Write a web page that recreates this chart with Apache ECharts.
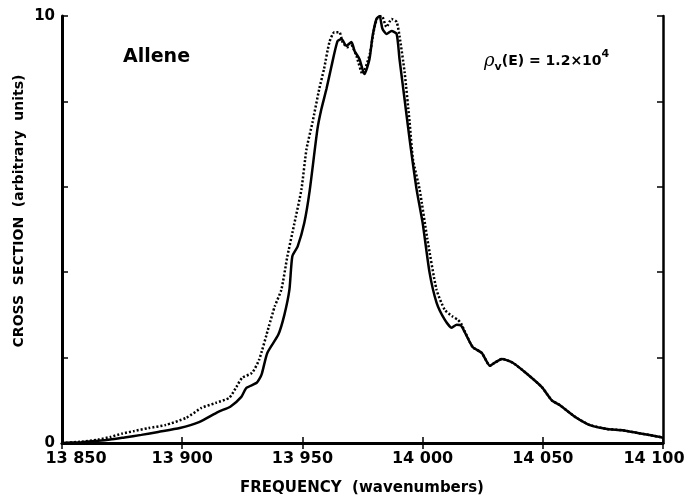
<!DOCTYPE html>
<html>
<head>
<meta charset="utf-8">
<script src="https://cdn.jsdelivr.net/npm/echarts@6/dist/echarts.min.js"></script>
<style>
html,body{margin:0;padding:0;background:#fff;}
#chart{width:687px;height:500px;}
</style>
</head>
<body>
<div id="chart"></div>
<script>
// Solid curve
var solidFreq = [13850,13858,13865,13870,13876,13883,13890,13899,13907,13915,13920,13924.6,13926.7,13931,13933,13935.4,13940,13942.5,13944.6,13945.8,13948,13950.8,13953,13956.25,13957.9,13960,13962,13964.6,13966.25,13968.3,13970.4,13971.7,13973.75,13975.8,13977.9,13979.2,13980.8,13982.1,13983.3,13985,13987.1,13989.2,13990.4,13992.5,13994.6,13997.5,14000,14002.9,14005.8,14009.2,14012.1,14014.2,14016,14017.5,14020.8,14024.6,14028,14030,14033,14037.5,14043,14049.6,14053.75,14057,14064,14069.6,14076.7,14083,14090,14098.75,14100];
var solidVal = [0,0.02,0.05,0.08,0.13,0.19,0.26,0.35,0.49,0.73,0.85,1.08,1.29,1.41,1.6,2.11,2.54,3.0,3.59,4.37,4.6,5.16,5.9,7.35,7.82,8.29,8.8,9.41,9.46,9.3,9.39,9.18,8.99,8.64,8.99,9.53,9.93,10.0,9.7,9.58,9.65,9.58,8.99,8.05,7.11,5.94,5.16,3.99,3.29,2.89,2.7,2.77,2.75,2.6,2.25,2.11,1.81,1.88,1.97,1.88,1.64,1.31,1.0,0.89,0.59,0.42,0.33,0.3,0.23,0.14,0.12];
// Dotted curve
var dottedFreq = [13850,13858,13865,13870,13875,13880,13886,13893,13901.7,13908,13914,13919.6,13922.5,13925,13929,13932,13936,13938.5,13941.25,13943.75,13946.5,13949.6,13951.7,13954.2,13957,13959,13961.25,13963.3,13965.4,13966.7,13968.75,13970.4,13972.5,13975,13978,13979.5,13981,13983,13985,13987.1,13989.2,13990.4,13992.5,13994.6,13996,13998.75,14002,14005.8,14009.2,14012.5,14014.6,14016,14017.5,14020.8,14024.6,14028,14030,14033,14037.5,14043,14049.6,14053.75,14057,14064,14069.6,14076.7,14083,14090,14098.75,14100];
var dottedVal = [0,0.03,0.08,0.14,0.22,0.28,0.35,0.42,0.59,0.82,0.94,1.06,1.31,1.53,1.64,1.95,2.72,3.2,3.59,4.37,5.1,5.94,6.88,7.51,8.29,8.76,9.39,9.62,9.62,9.39,9.27,9.3,9.06,8.64,9.1,9.6,9.93,10.0,9.74,9.93,9.86,9.53,8.69,7.51,6.64,5.94,4.77,3.59,3.12,2.96,2.89,2.8,2.62,2.25,2.11,1.81,1.88,1.97,1.88,1.64,1.31,1.0,0.89,0.59,0.42,0.33,0.3,0.23,0.14,0.12];
// Tick labels
var xTickValues = [13850,13900,13950,14000,14050,14100];
var xTickLabels = ['13 850','13 900','13 950','14 000','14 050','14 100'];
var yTickValues = [0,2,4,6,8,10];
var yTickLabels = ['0','','','','','10'];

function zip(a,b){var r=[];for(var i=0;i<a.length;i++)r.push([a[i],b[i]]);return r;}

var FONT = 'DejaVu Sans';
var axisLineStyle = {color:'#000', width:3};
var tickStyle = {inside:true, length:6, lineStyle:{color:'#000', width:1.5}};

var chart = echarts.init(document.getElementById('chart'), null, {renderer:'canvas'});
var option = {
  animation:false,
  backgroundColor:'#fff',
  grid:{left:62, right:24, top:16, bottom:57, containLabel:false, outerBoundsMode:'none'},
  xAxis:[
    {type:'value', min:13850, max:14100, interval:50, position:'bottom',
     axisLine:{lineStyle:axisLineStyle}, axisTick:tickStyle, splitLine:{show:false},
     axisLabel:{color:'#000', fontFamily:FONT, fontWeight:'bold', fontSize:16, margin:8,
       rich:{
         first:{fontFamily:FONT, fontWeight:'bold', fontSize:16, color:'#000', padding:[0,0,0,28]},
         last:{fontFamily:FONT, fontWeight:'bold', fontSize:16, color:'#000', padding:[0,18,0,0]}
       },
       formatter:function(v){var i=xTickValues.indexOf(v);if(i<0)return '';
         if(i===0)return '{first|'+xTickLabels[i]+'}';
         if(i===xTickValues.length-1)return '{last|'+xTickLabels[i]+'}';
         return xTickLabels[i];}}},
    {type:'value', min:13850, max:14100, interval:50, position:'top',
     axisLine:{lineStyle:{color:'#000', width:2.5}}, axisTick:tickStyle, splitLine:{show:false},
     axisLabel:{show:false}}
  ],
  yAxis:[
    {type:'value', min:0, max:10, interval:2, position:'left',
     axisLine:{lineStyle:axisLineStyle}, axisTick:tickStyle, splitLine:{show:false},
     axisLabel:{color:'#000', fontFamily:FONT, fontWeight:'bold', fontSize:15, margin:7,
       formatter:function(v){var i=yTickValues.indexOf(v);return i>=0?yTickLabels[i]:'';}}},
    {type:'value', min:0, max:10, interval:2, position:'right',
     axisLine:{lineStyle:{color:'#000', width:2.5}}, axisTick:tickStyle, splitLine:{show:false},
     axisLabel:{show:false}}
  ],
  series:[
    {type:'line', name:'solid', xAxisIndex:0, yAxisIndex:0, data:zip(solidFreq, solidVal),
     showSymbol:false, smooth:0.2, lineStyle:{color:'#000', width:2.5}},
    {type:'line', name:'dotted', xAxisIndex:0, yAxisIndex:0, data:zip(dottedFreq, dottedVal),
     showSymbol:false, smooth:0.2, lineStyle:{color:'#000', width:2.5, type:[2,2]}}
  ],
  graphic:[
    {type:'text', left:123, top:48, style:{text:'Allene', fill:'#000', font:'bold 19px "DejaVu Sans"'}},
    {type:'text', left:484, top:49, style:{
      text:'{i|ρ}{sub|v}{n|(E) = 1.2×10}{sup|4}',
      rich:{
        i:{font:'italic 18px "DejaVu Serif"', fill:'#000', verticalAlign:'middle', lineHeight:24},
        sub:{font:'bold 11px "DejaVu Sans"', fill:'#000', verticalAlign:'bottom', lineHeight:24},
        n:{font:'bold 14px "DejaVu Sans"', fill:'#000', verticalAlign:'middle', lineHeight:24},
        sup:{font:'bold 11px "DejaVu Sans"', fill:'#000', verticalAlign:'top', lineHeight:24}
      }}},
    {type:'text', x:362, y:488, style:{text:'FREQUENCY  (wavenumbers)', fill:'#000', font:'bold 15px "DejaVu Sans"', align:'center', verticalAlign:'middle'}},
    {type:'text', x:19, y:211, rotation:Math.PI/2, style:{text:'CROSS  SECTION  (arbitrary  units)', fill:'#000', font:'bold 14px "DejaVu Sans"', align:'center', verticalAlign:'middle'}}
  ]
};
chart.setOption(option);
</script>
</body>
</html>
